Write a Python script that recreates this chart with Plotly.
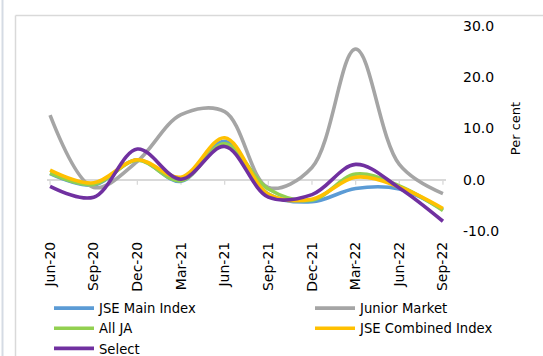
import plotly.graph_objects as go

# Quarterly returns of JSE indices (per cent)
quarters = ["Jun-20", "Sep-20", "Dec-20", "Mar-21", "Jun-21",
            "Sep-21", "Dec-21", "Mar-22", "Jun-22", "Sep-22"]

jse_main = [1.2, -1.0, 3.9, -0.3, 7.5, -2.8, -4.3, -1.7, -1.8, -5.8]
junior_market = [12.6, -1.5, 3.6, 12.7, 13.3, -1.5, 2.4, 25.5, 3.0, -2.7]
all_ja = [1.3, -0.9, 3.8, -0.2, 7.0, -1.8, -4.0, 1.1, -1.2, -6.0]
jse_combined = [1.9, -0.6, 3.9, 0.5, 8.2, -2.8, -3.8, 0.5, -1.4, -5.6]
select = [-1.3, -3.4, 6.0, 0.1, 6.5, -3.4, -2.9, 3.0, -1.6, -8.1]

y_ticks = [-10, 0, 10, 20, 30]
y_tick_text = ["-10.0", "0.0", "10.0", "20.0", "30.0"]

# (name, values, colour, legend column)
series = [
    ("JSE Main Index", jse_main, "#5B9BD5", "legend"),
    ("Junior Market", junior_market, "#A5A5A5", "legend2"),
    ("All JA", all_ja, "#92D050", "legend"),
    ("JSE Combined Index", jse_combined, "#FFC000", "legend2"),
    ("Select", select, "#7030A0", "legend"),
]

W, H = 543, 356
L, R, T, B = 47, 97, 26, 125
FONT = "DejaVu Sans"

fig = go.Figure()
for name, vals, color, leg in series:
    fig.add_trace(go.Scatter(
        x=list(range(len(quarters))), y=vals, name=name, mode="lines",
        legend=leg,
        line=dict(color=color, width=3.6, shape="spline", smoothing=1.0),
    ))

# small tick marks along the zero line
shapes = []
for i in range(len(quarters)):
    shapes.append(dict(type="line", xref="x", yref="y", ysizemode="pixel",
                       yanchor=0, x0=i, x1=i, y0=0, y1=-5,
                       line=dict(color="#d9d9d9", width=1.3), layer="below"))

# outer chart frame and the thin rule at the far left
pw, ph = W - L - R, H - T - B
def px_x(v):
    return (v - L) / pw
def px_y(v):
    return 1 - (v - T) / ph
shapes.append(dict(type="line", xref="paper", yref="paper",
                   x0=px_x(15.5), x1=px_x(W + 5), y0=px_y(15.5), y1=px_y(15.5),
                   line=dict(color="#d9d9d9", width=1.5)))
shapes.append(dict(type="line", xref="paper", yref="paper",
                   x0=px_x(15.5), x1=px_x(15.5), y0=px_y(15.5), y1=px_y(H + 5),
                   line=dict(color="#d9d9d9", width=1.5)))
shapes.append(dict(type="line", xref="paper", yref="paper",
                   x0=px_x(2.5), x1=px_x(2.5), y0=px_y(-5), y1=px_y(H + 5),
                   line=dict(color="#d5dbe4", width=2)))

legend_style = dict(orientation="v", xanchor="left", yanchor="top",
                    itemwidth=40, bgcolor="rgba(0,0,0,0)",
                    font=dict(family=FONT, size=13.2, color="#000000"))

fig.update_layout(
    width=W, height=H,
    margin=dict(l=L, r=R, t=T, b=B, pad=0, autoexpand=False),
    paper_bgcolor="white", plot_bgcolor="white",
    font=dict(family=FONT, size=14, color="#000000"),
    shapes=shapes,
    showlegend=True,
    legend=dict(x=px_x(49), y=px_y(293), **legend_style),
    legend2=dict(x=px_x(310), y=px_y(293), **legend_style),
    xaxis=dict(
        range=[-0.07, 9.07], tickmode="array",
        tickvals=list(range(len(quarters))), ticktext=quarters,
        tickangle=-90, showgrid=False, zeroline=False, showline=False,
        ticks="", ticklabelstandoff=7,
        tickfont=dict(family=FONT, size=14),
    ),
    yaxis=dict(
        range=[-10, 30], side="right", tickmode="array",
        tickvals=y_ticks, ticktext=y_tick_text,
        showgrid=False, zeroline=True, zerolinecolor="#d9d9d9",
        zerolinewidth=1.5, showline=False, ticks="",
        ticklabelstandoff=16,
        tickfont=dict(family=FONT, size=14),
        title=dict(text="Per cent", standoff=12,
                   font=dict(family=FONT, size=13)),
    ),
)

fig.write_html("out.html")
